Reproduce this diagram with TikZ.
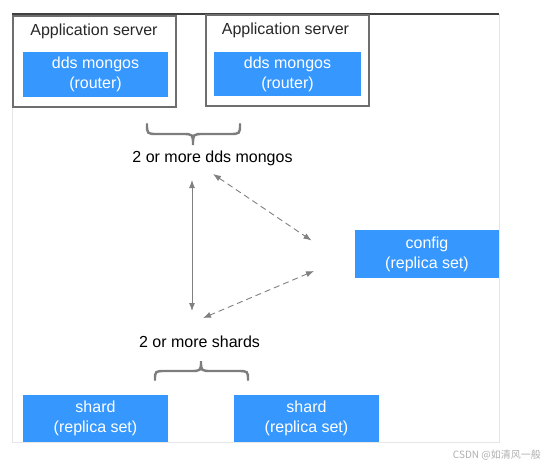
\documentclass[tikz,border=0pt]{standalone}
\usepackage{fontspec}
\setmainfont{Liberation Sans}
\newfontfamily\cjk{Noto Sans CJK SC}
\usetikzlibrary{arrows.meta}
\definecolor{boxblue}{RGB}{54,152,255}
\definecolor{framegray}{RGB}{230,230,230}
\definecolor{topline}{RGB}{64,64,64}
\definecolor{servergray}{RGB}{110,110,110}
\definecolor{arrowgray}{RGB}{128,128,128}
\definecolor{bracegray}{RGB}{125,125,125}
\definecolor{txtdark}{RGB}{40,40,40}
\definecolor{wmgray}{RGB}{175,175,175}
\tikzset{
  bigfont/.style={font=\fontsize{16}{20}\selectfont},
  bluebox/.style={bigfont, fill=boxblue, draw=none, text=white, align=center, inner sep=0pt},
  serverbox/.style={draw=servergray, line width=1.1pt, fill=white, inner sep=0pt},
  labeltext/.style={bigfont, text=txtdark, inner sep=0pt},
  linkarrow/.style={draw=arrowgray, line width=0.9pt, {Latex[length=8pt,width=6pt]}-{Latex[length=8pt,width=6pt]}},
  dashlink/.style={linkarrow, dash pattern=on 6pt off 4pt},
  bracepath/.style={draw=bracegray, line width=2.4pt, line cap=round},
}
\begin{document}
\begin{tikzpicture}[x=1pt,y=-1pt]
\useasboundingbox (0,0) rectangle (546,467);
% outer frame
\draw[framegray, line width=1pt] (12,14) rectangle (499,442);
\draw[topline, line width=1.4pt] (12,14) -- (499,14);

% application servers
\node[serverbox, minimum width=163pt, minimum height=91pt] (s1) at (94.5,61.5) {};
\node[serverbox, minimum width=163pt, minimum height=91pt] (s2) at (287.5,60.5) {};
\node[labeltext, text=txtdark] (t1) at (94,31) {Application server};
\node[labeltext, text=txtdark] (t2) at (285.5,30) {Application server};
\node[bluebox, minimum width=145pt, minimum height=45pt] (r1) at (95.5,74.5) {dds mongos\\(router)};
\node[bluebox, minimum width=147pt, minimum height=44pt] (r2) at (287.5,74) {dds mongos\\(router)};

% top brace
\draw[bracepath] (147,124) .. controls (147,134) .. (158,134) -- (182,134)
  .. controls (193,134) .. (193,145) .. controls (193,134) .. (204,134)
  -- (229,134) .. controls (240,134) .. (240,124);

\node[labeltext, text=black] (mongos) at (212.5,158) {2 or more dds mongos};

% config
\node[bluebox, minimum width=144pt, minimum height=48pt] (cfg) at (427,254) {config\\(replica set)};

% shards label and brace
\node[labeltext, text=black] (shards) at (199.5,342) {2 or more shards};
\draw[bracepath] (155,380) .. controls (155,371) .. (166,371) -- (190,371)
  .. controls (201,371) .. (201,361) .. controls (201,371) .. (212,371)
  -- (237,371) .. controls (248,371) .. (248,380);

% shards
\node[bluebox, minimum width=145pt, minimum height=47pt] (sh1) at (95.5,418.5) {shard\\(replica set)};
\node[bluebox, minimum width=145pt, minimum height=47pt] (sh2) at (306.5,418.5) {shard\\(replica set)};

% connectors
\coordinate (vtop) at (192,180);
\coordinate (vbot) at (192,311);
\coordinate (d1a) at (213,174);
\coordinate (d1b) at (311.5,240.5);
\coordinate (d2a) at (314,271);
\coordinate (d2b) at (203,318);
\draw[linkarrow] (vtop) -- (vbot);
\draw[dashlink] (d1a) -- (d1b);
\draw[dashlink] (d2a) -- (d2b);

% watermark
\node[font=\cjk\fontsize{10}{12}\selectfont, text=wmgray, anchor=east, inner sep=0pt] (wm) at (541,455) {CSDN @如清风一般};
\end{tikzpicture}
\end{document}
